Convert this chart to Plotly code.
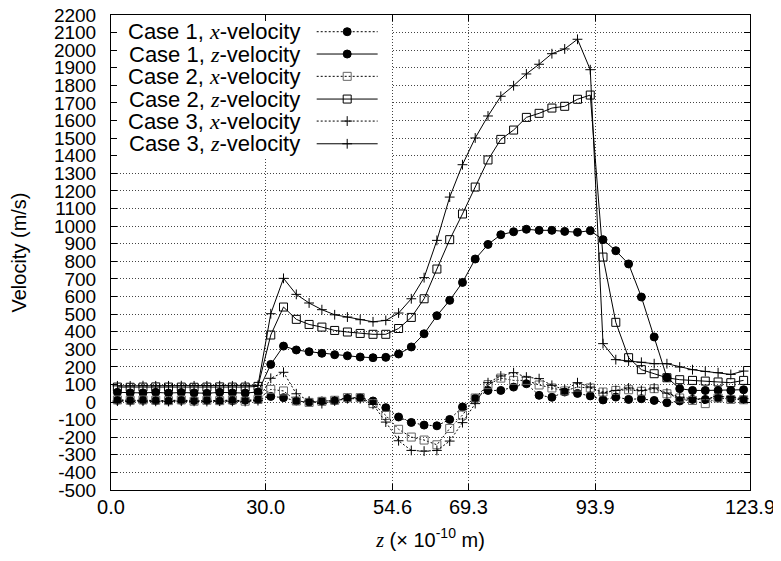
import plotly.graph_objects as go

# ---------------- data ----------------
z_pos = [1.24, 3.72, 6.20, 8.67, 11.15, 13.63, 16.11, 18.59, 21.07, 23.54,
         26.02, 28.50, 30.98, 33.45, 35.93, 38.41, 40.89, 43.37, 45.84, 48.32,
         50.80, 53.28, 55.76, 58.23, 60.71, 63.19, 65.67, 68.15, 70.62, 73.10,
         75.58, 78.06, 80.54, 83.01, 85.49, 87.97, 90.45, 92.93, 95.40, 97.88,
         100.36, 102.84, 105.32, 107.79, 110.27, 112.75, 115.23, 117.71, 120.18, 122.66]

case1_x = [10, 8, 10, 8, 6, 10, 8, 10, 6, 8, 10, 13,
           32, 25, 6, 0, 6, 8, 21, 25, 6, -32, -85, -116, -131,
           -135, -99, -28, 21, 66, 66, 85, 104, 38, 27, 57, 49, 35,
           12, 28, 15, 19, 9, -4, 6, 15, 15, 23, 19, 15]
case1_z = [55, 52, 52, 55, 51, 54, 52, 50, 55, 52, 51, 57,
           214, 318, 296, 286, 277, 269, 263, 256, 252, 254, 273, 313, 388,
           491, 578, 680, 813, 896, 951, 968, 982, 976, 976, 970, 965, 974,
           923, 860, 785, 597, 370, 140, 76, 66, 66, 66, 66, 70]
case2_x = [12, 10, 12, 10, 8, 12, 5, 10, 8, 12, 5, 15,
           72, 63, 6, -2, 4, 10, 25, 25, -9, -76, -155, -199, -216,
           -243, -150, -74, 23, 99, 136, 123, 123, 97, 80, 63, 85, 80,
           57, 66, 70, 61, 76, 47, 23, 9, -9, 23, 15, 13]
case2_z = [85, 84, 85, 86, 85, 85, 84, 85, 86, 85, 85, 89,
           381, 540, 470, 441, 426, 407, 398, 390, 385, 385, 418, 481, 587,
           756, 923, 1069, 1222, 1376, 1493, 1546, 1618, 1641, 1671, 1681, 1721, 1745,
           824, 453, 252, 184, 161, 138, 127, 123, 119, 114, 110, 123]
case3_x = [5, 3, 5, 4, 3, 5, 4, 3, 5, 4, 3, 8,
           135, 169, 47, 6, -9, 6, 19, 19, -13, -114, -220, -275, -279,
           -275, -222, -117, -9, 110, 148, 167, 142, 133, 95, 70, 110, 85,
           51, 66, 80, 66, 80, 51, 28, 19, 19, 32, 28, 19]
case3_z = [92, 92, 93, 92, 92, 93, 92, 92, 93, 92, 92, 95,
           502, 703, 612, 563, 525, 496, 483, 468, 456, 464, 506, 587, 707,
           919, 1165, 1349, 1501, 1626, 1738, 1798, 1865, 1920, 1980, 2007, 2062, 1889,
           332, 241, 233, 226, 218, 218, 199, 184, 174, 167, 157, 176]

series_names = ["Case 1, x-velocity", "Case 1, z-velocity",
                "Case 2, x-velocity", "Case 2, z-velocity",
                "Case 3, x-velocity", "Case 3, z-velocity"]
series_values = [case1_x, case1_z, case2_x, case2_z, case3_x, case3_z]

x_tick_vals = [0.0, 30.0, 54.6, 69.3, 93.9, 123.9]
x_tick_text = ["0.0", "30.0", "54.6", "69.3", "93.9", "123.9"]
y_tick_vals = list(range(-500, 2201, 100))
y_tick_text = [str(v) for v in y_tick_vals]

# ---------------- style ----------------
FONT = "Liberation Sans, Arial, Helvetica, sans-serif"
SERIF = "Liberation Serif"
DOT = "2px,2px"
styles = [
    dict(symbol="circle", color="black", dash=DOT, size=8),
    dict(symbol="circle", color="black", dash="solid", size=8),
    dict(symbol="square-open", color="#666666", dash=DOT, size=8),
    dict(symbol="square-open", color="black", dash="solid", size=8),
    dict(symbol="cross-thin", color="black", dash=DOT, size=7),
    dict(symbol="cross-thin", color="black", dash="solid", size=7),
]

# page body has an 8px default margin: compensate so the plot lands where intended
OFF = 8
PAGE_W, PAGE_H = 781, 561
W, H = PAGE_W - OFF, PAGE_H - OFF
plot_left, plot_right, plot_top, plot_bottom = 111.2, 750.5, 15.0, 489.7  # page pixels
L = plot_left - OFF
T = plot_top - OFF
R = W - (plot_right - OFF)
B = H - (plot_bottom - OFF)

# key (legend) geometry, in page pixels, drawn on a pixel overlay axis
key_rows = [31.7, 54.0, 76.3, 99.0, 121.0, 143.7]
key_text_right = 302
key_line = (317, 378)
key_box = (plot_left + 0.5, 392, plot_top + 0.5, 157)


def label_html(name):
    head, tail = name.split(", ")
    comp = tail.split("-")[0]
    return f"{head}, <span style=\"font-family:{SERIF}\"><i>{comp}</i></span>-velocity"


fig = go.Figure()

for name, vals, st in zip(series_names, series_values, styles):
    fig.add_trace(go.Scatter(
        x=z_pos, y=vals, name=name, mode="lines+markers",
        line=dict(color="black", width=1, dash=st["dash"]),
        marker=dict(symbol=st["symbol"], size=st["size"], color=st["color"],
                    line=dict(color=st["color"], width=1)),
        showlegend=False,
    ))

# opaque key box (covers grid lines behind the key)
bx0, bx1, by0, by1 = key_box
fig.add_trace(go.Scatter(
    x=[bx0, bx1, bx1, bx0, bx0], y=[by0, by0, by1, by1, by0],
    mode="lines", fill="toself", fillcolor="white", line=dict(width=0),
    xaxis="x2", yaxis="y2", showlegend=False, hoverinfo="skip"))

annotations = []
for k, (name, st) in enumerate(zip(series_names, styles)):
    yk = key_rows[k]
    fig.add_trace(go.Scatter(
        x=[key_line[0], key_line[1]], y=[yk, yk], mode="lines",
        line=dict(color="black", width=1, dash=st["dash"]),
        xaxis="x2", yaxis="y2", showlegend=False, hoverinfo="skip"))
    fig.add_trace(go.Scatter(
        x=[(key_line[0] + key_line[1]) / 2], y=[yk], mode="markers",
        marker=dict(symbol=st["symbol"], size=st["size"], color=st["color"],
                    line=dict(color=st["color"], width=1)),
        xaxis="x2", yaxis="y2", showlegend=False, hoverinfo="skip"))
    annotations.append(dict(
        x=key_text_right, y=yk, xref="x2", yref="y2", text=label_html(name),
        showarrow=False, xanchor="right", yanchor="middle",
        font=dict(family=FONT, size=22, color="black")))

fig.update_layout(
    width=W, height=H,
    margin=dict(l=L, r=R, t=T, b=B, autoexpand=False),
    paper_bgcolor="white", plot_bgcolor="white",
    font=dict(family=FONT, size=20, color="black"),
    showlegend=False,
    annotations=annotations,
    xaxis=dict(range=[0, 123.9], tickmode="array", tickvals=x_tick_vals, ticktext=x_tick_text,
               ticks="inside", ticklen=6, tickcolor="black", mirror="ticks",
               showline=True, linecolor="black", linewidth=1, automargin=False,
               showgrid=True, gridcolor="#444444", gridwidth=1, griddash="1px,2px",
               zeroline=False, tickfont=dict(size=20), ticklabelstandoff=-1,
               ticklabeloverflow="allow",
               title=dict(text=f"<span style=\"font-family:{SERIF}\"><i>z</i></span> (× 10<sup>-10</sup> m)",
                          font=dict(size=20), standoff=15)),
    yaxis=dict(range=[-500, 2200], tickmode="array", tickvals=y_tick_vals, ticktext=y_tick_text,
               ticks="inside", ticklen=6, tickcolor="black", mirror="ticks",
               showline=True, linecolor="black", linewidth=1, automargin=False,
               showgrid=True, gridcolor="#444444", gridwidth=1, griddash="1px,2px",
               zeroline=False, tickfont=dict(size=19), ticklabelstandoff=10,
               ticklabeloverflow="allow",
               title=dict(text="Velocity (m/s)", font=dict(size=20), standoff=22)),
    xaxis2=dict(range=[plot_left, plot_right], overlaying="x", visible=False, fixedrange=True),
    yaxis2=dict(range=[plot_bottom, plot_top], overlaying="y", visible=False, fixedrange=True),
)

fig.write_html("out.html")
